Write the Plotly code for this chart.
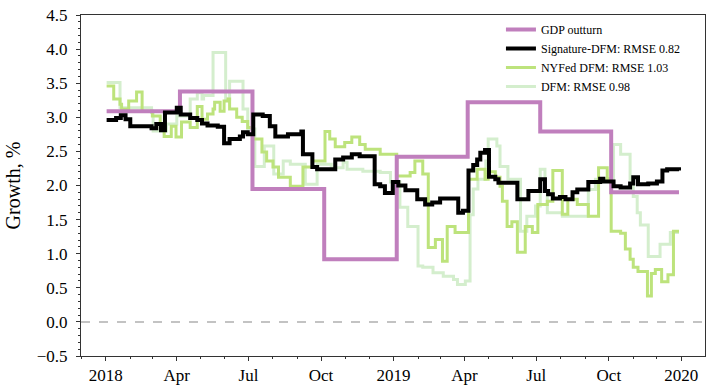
import plotly.graph_objects as go

# GDP outturn (quarterly steps)
gdp_dates = ['2018-01-02', '2018-04-05', '2018-07-06', '2018-10-05', '2019-01-05',
             '2019-04-05', '2019-07-06', '2019-10-04', '2019-12-29']
gdp_vals = [3.09, 3.38, 1.95, 0.92, 2.42, 3.22, 2.79, 1.90, 1.90]

# Signature-DFM nowcast
sig_dates = ['2018-01-02', '2018-01-14', '2018-01-20', '2018-01-26', '2018-02-01', '2018-02-28',
             '2018-03-06', '2018-03-12', '2018-03-17', '2018-04-01', '2018-04-06', '2018-04-18',
             '2018-04-27', '2018-05-03', '2018-05-10', '2018-05-23', '2018-05-31', '2018-06-07',
             '2018-06-20', '2018-06-24', '2018-06-30', '2018-07-07', '2018-07-19', '2018-07-28',
             '2018-08-04', '2018-08-20', '2018-09-06', '2018-09-08', '2018-09-20', '2018-09-26',
             '2018-10-19', '2018-10-29', '2018-11-09', '2018-11-19', '2018-12-08', '2018-12-15',
             '2018-12-21', '2018-12-31', '2019-01-07', '2019-01-16', '2019-01-31', '2019-02-10',
             '2019-02-19', '2019-03-01', '2019-03-24', '2019-03-30', '2019-04-06', '2019-04-12',
             '2019-04-17', '2019-04-21', '2019-04-27', '2019-05-02', '2019-05-10', '2019-05-14',
             '2019-06-07', '2019-06-21', '2019-07-06', '2019-07-12', '2019-07-16', '2019-07-22',
             '2019-07-31', '2019-08-07', '2019-08-16', '2019-08-22', '2019-09-05', '2019-09-20',
             '2019-09-24', '2019-10-07', '2019-10-16', '2019-10-28', '2019-11-01', '2019-11-07',
             '2019-11-20', '2019-12-01', '2019-12-08', '2019-12-14', '2019-12-29']
sig_vals = [2.96, 2.99, 3.03, 2.97, 2.87, 2.84,
            2.90, 2.81, 3.07, 3.14, 3.04, 2.99,
            2.96, 2.91, 2.88, 2.86, 2.62, 2.68,
            2.72, 2.78, 2.75, 3.04, 3.02, 2.87,
            2.72, 2.75, 2.79, 2.46, 2.27, 2.24,
            2.38, 2.41, 2.46, 2.43, 2.02, 1.99,
            1.89, 2.05, 2.00, 1.93, 1.80, 1.72,
            1.75, 1.81, 1.60, 1.63, 2.22, 2.30,
            2.38, 2.48, 2.52, 2.13, 2.09, 2.04,
            1.80, 1.92, 2.09, 1.92, 1.87, 1.81,
            1.83, 1.80, 1.90, 1.94, 2.05, 2.10,
            2.06, 1.99, 1.97, 2.03, 2.12, 2.02,
            2.03, 2.06, 2.22, 2.24, 2.22]

# NYFed DFM nowcast
nyf_dates = ['2018-01-02', '2018-01-11', '2018-01-19', '2018-01-21', '2018-01-30', '2018-02-09',
             '2018-02-16', '2018-03-01', '2018-03-11', '2018-03-16', '2018-03-25', '2018-03-31',
             '2018-04-07', '2018-04-18', '2018-04-27', '2018-05-03', '2018-05-10', '2018-05-17',
             '2018-05-19', '2018-05-26', '2018-05-31', '2018-06-05', '2018-06-07', '2018-06-16',
             '2018-06-23', '2018-06-30', '2018-07-07', '2018-07-18', '2018-07-24', '2018-08-01',
             '2018-08-08', '2018-08-23', '2018-09-08', '2018-09-20', '2018-10-06', '2018-10-12',
             '2018-10-19', '2018-10-31', '2018-11-09', '2018-11-19', '2018-11-26', '2018-12-15',
             '2019-01-05', '2019-01-22', '2019-01-28', '2019-02-07', '2019-02-14', '2019-02-23',
             '2019-03-04', '2019-03-10', '2019-03-20', '2019-04-06', '2019-04-17', '2019-04-27',
             '2019-05-01', '2019-05-10', '2019-05-16', '2019-05-19', '2019-05-25', '2019-05-31',
             '2019-06-07', '2019-06-17', '2019-06-26', '2019-07-03', '2019-07-15', '2019-07-22',
             '2019-08-03', '2019-08-10', '2019-08-22', '2019-09-05', '2019-09-18', '2019-09-29',
             '2019-10-04', '2019-10-16', '2019-10-22', '2019-10-28', '2019-11-01', '2019-11-07',
             '2019-11-19', '2019-11-24', '2019-11-29', '2019-12-07', '2019-12-15', '2019-12-22',
             '2019-12-29']
nyf_vals = [3.46, 3.27, 3.19, 3.12, 3.24, 3.37,
            3.09, 3.02, 2.85, 2.72, 2.87, 2.71,
            2.93, 2.85, 3.16, 2.97, 3.05, 3.12,
            3.22, 3.09, 3.24, 3.27, 3.12, 3.00,
            2.94, 2.85, 2.68, 2.49, 2.36, 2.27,
            2.12, 1.99, 2.27, 2.36, 2.79, 2.68,
            2.57, 2.63, 2.71, 2.60, 2.53, 2.46,
            2.14, 2.19, 2.36, 2.17, 1.09, 1.21,
            0.89, 1.40, 1.31, 2.09, 2.24, 2.09,
            2.20, 2.12, 1.99, 1.77, 1.40, 1.47,
            1.02, 1.40, 1.31, 1.72, 1.77, 2.22,
            1.58, 1.80, 1.72, 1.55, 2.26, 2.10,
            1.33, 1.30, 1.07, 0.92, 0.80, 0.74,
            0.38, 0.71, 0.77, 0.59, 0.69, 1.33,
            1.33]

# DFM nowcast
dfm_dates = ['2018-01-02', '2018-01-19', '2018-02-28', '2018-03-02', '2018-03-19', '2018-04-01',
             '2018-04-18', '2018-04-27', '2018-05-03', '2018-05-05', '2018-05-17', '2018-06-02',
             '2018-06-07', '2018-06-24', '2018-06-30', '2018-07-09', '2018-07-21', '2018-08-02',
             '2018-08-14', '2018-08-23', '2018-09-11', '2018-09-26', '2018-10-14', '2018-10-29',
             '2018-11-03', '2018-11-23', '2018-12-15', '2018-12-28', '2019-01-09', '2019-01-19',
             '2019-02-01', '2019-02-07', '2019-02-20', '2019-03-05', '2019-03-18', '2019-03-23',
             '2019-04-02', '2019-04-08', '2019-04-12', '2019-04-18', '2019-04-28', '2019-05-01',
             '2019-05-12', '2019-05-16', '2019-05-26', '2019-06-11', '2019-06-19', '2019-06-30',
             '2019-07-06', '2019-07-12', '2019-07-15', '2019-08-03', '2019-09-05', '2019-09-14',
             '2019-10-07', '2019-10-16', '2019-10-28', '2019-11-01', '2019-11-06', '2019-11-10',
             '2019-11-20', '2019-12-05', '2019-12-18', '2019-12-29']
dfm_vals = [3.51, 3.14, 3.07, 2.80, 2.90, 3.02,
            3.27, 3.36, 3.27, 3.32, 3.95, 3.27,
            3.53, 3.12, 2.83, 2.28, 2.58, 2.17,
            2.36, 2.31, 2.02, 2.31, 2.26, 2.34,
            2.24, 2.21, 2.19, 2.05, 1.68, 1.40,
            0.82, 0.80, 0.72, 0.67, 0.62, 0.55,
            0.60, 1.57, 1.95, 2.09, 2.36, 2.68,
            2.58, 2.28, 2.09, 1.33, 1.55, 1.70,
            2.24, 1.92, 1.60, 1.55, 1.94, 2.09,
            2.60, 2.46, 2.09, 1.84, 1.60, 1.42,
            0.96, 1.14, 1.31, 1.31]

tick_dates = ['2018-01-01', '2018-04-01', '2018-07-01', '2018-10-01', '2019-01-01',
              '2019-04-01', '2019-07-01', '2019-10-01', '2020-01-01']
tick_text = ['2018', 'Apr', 'Jul', 'Oct', '2019', 'Apr', 'Jul', 'Oct', '2020']

serif = 'Liberation Serif'

fig = go.Figure()
fig.add_hline(y=0, line=dict(color='#b0b0b0', width=1.5, dash='dash'))

fig.add_trace(go.Scatter(x=dfm_dates, y=dfm_vals, mode='lines', line_shape='hv',
                         name='DFM: RMSE 0.98', legendrank=4,
                         line=dict(color='#d4eecd', width=3)))
fig.add_trace(go.Scatter(x=nyf_dates, y=nyf_vals, mode='lines', line_shape='hv',
                         name='NYFed DFM: RMSE 1.03', legendrank=3,
                         line=dict(color='#bde37c', width=3)))
fig.add_trace(go.Scatter(x=gdp_dates, y=gdp_vals, mode='lines', line_shape='hv',
                         name='GDP outturn', legendrank=1,
                         line=dict(color='#c07fbd', width=4)))
fig.add_trace(go.Scatter(x=sig_dates, y=sig_vals, mode='lines', line_shape='hv',
                         name='Signature-DFM: RMSE 0.82', legendrank=2,
                         line=dict(color='black', width=4)))

fig.update_layout(
    width=714, height=391,
    margin=dict(l=81, r=9, t=15, b=35),
    plot_bgcolor='white', paper_bgcolor='white',
    font=dict(family=serif, size=17, color='black'),
    legend=dict(x=0.673, y=1.0, xanchor='left', yanchor='top',
                font=dict(family=serif, size=12), bgcolor='rgba(255,255,255,0)',
                tracegroupgap=0, itemwidth=30),
    showlegend=True,
)
fig.update_xaxes(
    range=['2017-11-30 12:00', '2020-01-31'], automargin=False,
    tickvals=tick_dates, ticktext=tick_text,
    ticks='outside', ticklen=4, tickcolor='#333', showgrid=False,
    showline=True, linecolor='#333', linewidth=1, mirror=True,
    minor=dict(dtick='M1', tick0='2018-01-01', ticks='outside', ticklen=2, tickcolor='#333'),
    zeroline=False,
)
fig.update_yaxes(
    range=[-0.5, 4.5], dtick=0.5, tick0=0, tickformat='.1f', automargin=False,
    ticks='outside', ticklen=4, tickcolor='#333', showgrid=False, ticklabelstandoff=5,
    showline=True, linecolor='#333', linewidth=1, mirror=True,
    minor=dict(dtick=0.1, ticks='outside', ticklen=2, tickcolor='#333'),
    zeroline=False,
    title=dict(text='Growth, %', font=dict(family=serif, size=20), standoff=10),
)

# drop the default page margin so the figure sits at the window's corner
fig.write_html('out.html', config={'displayModeBar': False},
               post_script="document.body.style.margin='0';")
